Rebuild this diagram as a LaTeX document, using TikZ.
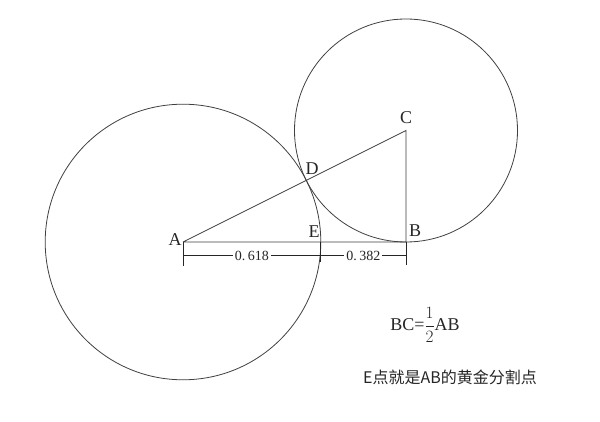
\documentclass[tikz,border=0pt]{standalone}
\usepackage{fontspec}
\setmainfont{Liberation Serif}
\newfontfamily\cjk{Noto Sans CJK SC}[Scale=1]
\begin{document}
\begin{tikzpicture}[x=1pt,y=-1pt,
  geo/.style={draw=black!75,line width=0.8pt},
  dim/.style={draw=black!85,line width=1pt},
  lbl/.style={font=\fontsize{18}{18}\selectfont,text=black!85,inner sep=0pt},
  dimlbl/.style={font=\fontsize{14}{14}\selectfont,fill=white,inner sep=2pt,text=black!85}]
\useasboundingbox (0,0) rectangle (600,422);
\fill[white] (0,0) rectangle (600,422);
\coordinate (A) at (183,242);
\coordinate (B) at (406,242);
\coordinate (C) at (406,130.5);
\coordinate (E) at (320.8,242);
% circles
\draw[geo] (A) circle[radius=137.8];
\draw[geo] (C) circle[radius=111.5];
% lines
\draw[geo] (A) -- (B) -- (C) -- (A);
% dimension ticks
\coordinate (At) at (183,266);
\coordinate (Et) at (320.8,262);
\coordinate (Bt) at (406,265);
\draw[dim] (A) -- (At);
\draw[dim] (E) -- (Et);
\draw[dim] (B) -- (Bt);
\coordinate (A1) at (183,256);
\coordinate (E1) at (320.8,256);
\coordinate (B1) at (406,256);
\draw[dim] (A1) -- node[dimlbl] (l1) {0.\,618} (E1);
\draw[dim] (E1) -- node[dimlbl] (l2) {0.\,382} (B1);
% labels
\node[lbl] (lA) at (175,240) {A};
\node[lbl] (lE) at (314,232) {E};
\node[lbl] (lB) at (415,231) {B};
\node[lbl] (lC) at (406,118) {C};
\node[lbl] (lD) at (312,169) {D};
\node[font=\fontsize{18}{18}\selectfont,text=black!85,inner sep=0pt] (eq) at (425,325) {BC=$\displaystyle\frac{1}{2}$AB};
\node[font=\cjk\fontsize{16}{16}\selectfont,text=black!85,inner sep=0pt] (txt) at (450,377) {E点就是AB的黄金分割点};
\end{tikzpicture}
\end{document}
